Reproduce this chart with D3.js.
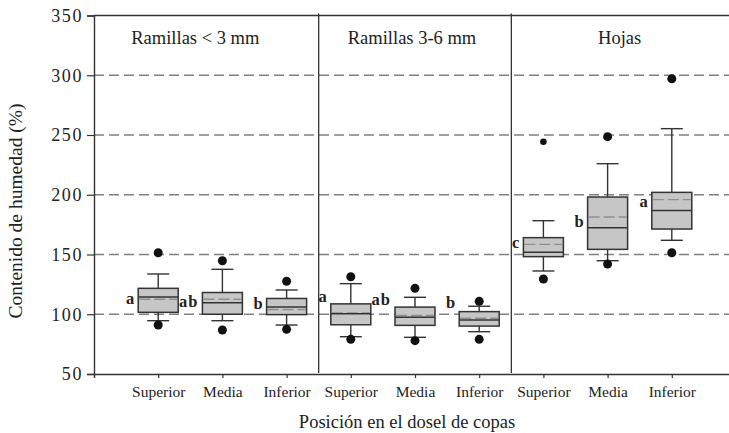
<!DOCTYPE html>
<html>
<head>
<meta charset="utf-8">
<script src="https://cdn.jsdelivr.net/npm/d3@7"></script>
<style>
  body { margin: 0; background: #fff; }
  text { font-family: "Liberation Serif", "Times New Roman", serif; }
</style>
</head>
<body>
<script>
// datos
const panels = ["Ramillas < 3 mm", "Ramillas 3-6 mm", "Hojas"];
const positions = ["Superior", "Media", "Inferior"];

// un valor por caja, en orden: panel 1 (Sup, Med, Inf), panel 2, panel 3
const whiskerLow  = [94.6, 94.6, 91.0,   81.2, 80.7, 85.4,   136.2, 144.8, 161.9];
const q1          = [101.6, 100.0, 99.7, 91.2, 90.7, 90.1,   148.2, 154.3, 171.3];
const median      = [114.5, 109.7, 106.0, 100.5, 97.5, 95.1, 151.8, 172.4, 186.9];
const mean        = [112.5, 112.5, 104.0, 101.0, 99.0, 96.6, 158.5, 181.4, 195.9];
const q3          = [121.7, 118.2, 113.2, 108.7, 106.0, 102.2, 164.1, 198.1, 202.0];
const whiskerHigh = [133.7, 137.6, 120.3, 125.6, 114.2, 106.7, 178.3, 226.0, 255.3];
const outliers    = [[91, 151.5], [86.8, 144.8], [87.4, 127.6],
                     [79, 131.4], [77.9, 121.7], [79, 110.8],
                     [129.5, 244.4], [142, 248.6], [151.5, 297.1]];
// letras de significancia y el nivel (en %) de su linea base
const letters  = ["a", "ab", "b", "a", "ab", "b", "c", "b", "a"];
const letterAt = [108.6, 106.3, 104.4, 110.5, 107.7, 105.5, 155.7, 173.3, 190];

const yTicks = [50, 100, 150, 200, 250, 300, 350];
const gridLines = [100, 150, 200, 250, 300];

const width = 729;
const height = 433;
const margins = { left: 94, top: 15.5, bottom: 59 };

// escalas: una posicion entera por caja, 0..10
var xScale = d3.scaleLinear().domain([0, 10]).range([margins.left, margins.left + 642]);
var yScale = d3.scaleLinear().domain([50, 350]).range([height - margins.bottom, margins.top]);

var svg = d3.select("body")
    .append("svg")
    .attr("width", width)
    .attr("height", height);

// lineas de referencia discontinuas
svg.selectAll(".grid")
    .data(gridLines)
    .enter().append("line")
    .attr("class", "grid")
    .attr("x1", xScale(0))
    .attr("x2", xScale(10))
    .attr("y1", d => yScale(d))
    .attr("y2", d => yScale(d))
    .style("stroke", "#808080")
    .style("stroke-width", 1.3)
    .style("stroke-dasharray", "10,5");

// separadores de paneles
svg.selectAll(".sep")
    .data([3.5, 6.5])
    .enter().append("line")
    .attr("class", "sep")
    .attr("x1", d => xScale(d))
    .attr("x2", d => xScale(d))
    .attr("y1", yScale(350) - 2)
    .attr("y2", yScale(50) - 1)
    .style("stroke", "#222")
    .style("stroke-width", 1.2);

// eje y
var yAxis = svg.append("g")
    .attr("transform", "translate(" + margins.left + ",0)")
    .call(d3.axisLeft(yScale).tickValues(yTicks).tickSize(7).tickPadding(4));
yAxis.selectAll("text")
    .style("font-size", "18px")
    .style("letter-spacing", "1.6px")
    .style("fill", "#222")
    .style("font-family", "'Liberation Serif', serif");

// eje x
var xAxis = svg.append("g")
    .attr("transform", "translate(0," + yScale(50) + ")")
    .call(d3.axisBottom(xScale)
        .tickValues(d3.range(1, 10))
        .tickFormat((d, i) => positions[i % 3])
        .tickSize(4).tickPadding(8));
xAxis.selectAll("text")
    .style("font-size", "15.5px")
    .style("fill", "#222")
    .style("font-family", "'Liberation Serif', serif");

[yAxis, xAxis].forEach(ax => {
    ax.select(".domain").style("stroke", "#333").style("stroke-width", 1.4);
    ax.selectAll(".tick line").style("stroke", "#333").style("stroke-width", 1.2);
});

// linea superior del marco
svg.append("line")
    .attr("x1", xScale(0)).attr("x2", xScale(10))
    .attr("y1", yScale(350)).attr("y2", yScale(350))
    .style("stroke", "#333")
    .style("stroke-width", 1.4);

// titulos de paneles
var panelCenters = [xScale(1.75) - 11, xScale(5) - 3, xScale(8.25) - 4];
panels.forEach((p, i) => {
    svg.append("text")
        .text(p)
        .attr("x", panelCenters[i])
        .attr("y", 43.5)
        .attr("text-anchor", "middle")
        .style("font-size", "18.5px")
        .style("fill", "#222");
});

// cajas
var boxW = 40;
var capW = 22;
d3.range(9).forEach(i => {
    var cx = xScale(i + 1);
    var g = svg.append("g");

    // bigote
    g.append("line")
        .attr("x1", cx).attr("x2", cx)
        .attr("y1", yScale(whiskerLow[i])).attr("y2", yScale(whiskerHigh[i]))
        .style("stroke", "#333").style("stroke-width", 1.4);
    [whiskerLow[i], whiskerHigh[i]].forEach(w => {
        g.append("line")
            .attr("x1", cx - capW / 2).attr("x2", cx + capW / 2)
            .attr("y1", yScale(w)).attr("y2", yScale(w))
            .style("stroke", "#333").style("stroke-width", 1.4);
    });

    // caja
    g.append("rect")
        .attr("x", cx - boxW / 2)
        .attr("y", yScale(q3[i]))
        .attr("width", boxW)
        .attr("height", yScale(q1[i]) - yScale(q3[i]))
        .style("fill", "#c6c6c6")
        .style("stroke", "#333")
        .style("stroke-width", 1.5);

    // media (discontinua)
    g.append("line")
        .attr("x1", cx - boxW / 2 + 1).attr("x2", cx + boxW / 2 - 1)
        .attr("y1", yScale(mean[i])).attr("y2", yScale(mean[i]))
        .style("stroke", "#8e8e8e")
        .style("stroke-width", 1.4)
        .style("stroke-dasharray", "11,4");

    // mediana
    g.append("line")
        .attr("x1", cx - boxW / 2).attr("x2", cx + boxW / 2)
        .attr("y1", yScale(median[i])).attr("y2", yScale(median[i]))
        .style("stroke", "#333").style("stroke-width", 1.5);

    // valores atipicos (el de 244 en Hojas-Superior se ve mas pequeno)
    g.selectAll(".out")
        .data(outliers[i])
        .enter().append("circle")
        .attr("cx", cx)
        .attr("cy", d => yScale(d))
        .attr("r", d => (i == 6 && d > 200) ? 3.3 : 4.5)
        .style("fill", "#111");

    // letra
    g.append("text")
        .text(letters[i])
        .attr("x", cx - boxW / 2 - 4)
        .attr("y", yScale(letterAt[i]))
        .attr("text-anchor", "end")
        .style("font-size", "16.5px")
        .style("font-weight", "bold")
        .style("letter-spacing", letters[i].length > 1 ? "1px" : "0px")
        .style("fill", "#222");
});

// titulos de ejes
svg.append("text")
    .text("Posición en el dosel de copas")
    .attr("x", 407)
    .attr("y", 428)
    .attr("text-anchor", "middle")
    .style("font-size", "18.5px")
    .style("fill", "#222");

svg.append("text")
    .text("Contenido de humedad (%)")
    .attr("transform", "translate(22,211) rotate(-90)")
    .attr("text-anchor", "middle")
    .style("font-size", "19.5px")
    .style("fill", "#222");
</script>
</body>
</html>
